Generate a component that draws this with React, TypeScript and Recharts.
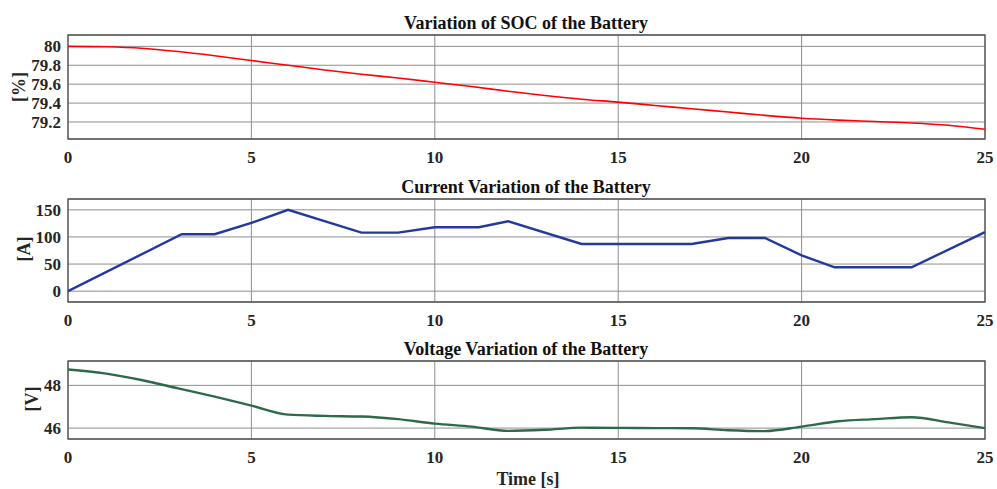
import React from 'react';
import { LineChart, Line, XAxis, YAxis, CartesianGrid, ReferenceArea } from 'recharts';

const xTicks = [0, 5, 10, 15, 20, 25];

const socTime = [0, 1, 2, 3, 4, 5, 6, 7, 8, 9, 10, 11, 12, 13, 14, 15, 16, 17, 18, 19, 20, 21, 22, 23, 24, 25];
const socValues = [80, 79.995, 79.98, 79.945, 79.9, 79.85, 79.8, 79.75, 79.705, 79.665, 79.62, 79.575, 79.525, 79.48, 79.44, 79.41, 79.375, 79.34, 79.305, 79.27, 79.24, 79.22, 79.205, 79.19, 79.165, 79.123];
const socTicks = [79.2, 79.4, 79.6, 79.8, 80];

const currentTime = [0, 3.1, 4, 5, 6, 8, 9, 10, 11.2, 12, 14, 17, 18, 19, 20, 20.9, 23, 25];
const currentValues = [0, 105, 105, 126, 150, 108, 108, 118, 118, 129, 87, 87, 98, 98, 66, 44, 44, 109];
const currentTicks = [0, 50, 100, 150];

const voltageTime = [0, 1, 2, 3, 4, 5, 6, 7, 8, 9, 10, 11, 12, 13, 14, 15, 16, 17, 18, 19, 20, 21, 22, 23, 24, 25];
const voltageValues = [48.74, 48.56, 48.25, 47.86, 47.47, 47.05, 46.63, 46.57, 46.54, 46.42, 46.21, 46.07, 45.87, 45.92, 46.02, 46.01, 46.0, 45.99, 45.9, 45.86, 46.07, 46.32, 46.42, 46.51, 46.27, 46.0];
const voltageTicks = [46, 48];

const socData = socTime.map((t, i) => ({ t, v: socValues[i] }));
const currentData = currentTime.map((t, i) => ({ t, v: currentValues[i] }));
const voltageData = voltageTime.map((t, i) => ({ t, v: voltageValues[i] }));

const FONT = '"Liberation Serif", "Times New Roman", serif';
const GRID = '#8e8e8e';
const FRAME = '#555555';
const TEXT = '#262626';

function XTick(props: any) {
  const { x, y, payload } = props;
  return (
    <text x={x} y={y} dy={12} textAnchor="middle" style={{ fontFamily: FONT, fontSize: 17, fontWeight: 'bold', fill: TEXT }}>
      {String(payload.value)}
    </text>
  );
}

function YTick(props: any) {
  const { x, y, payload } = props;
  return (
    <text x={x} y={y} dy={6} textAnchor="end" style={{ fontFamily: FONT, fontSize: 17, fontWeight: 'bold', fill: TEXT }}>
      {String(payload.value)}
    </text>
  );
}

type PanelProps = {
  top: number;
  height: number;
  marginTop: number;
  marginBottom: number;
  xHeight: number;
  data: { t: number; v: number }[];
  domain: [number, number];
  yTicks: number[];
  color: string;
  strokeWidth: number;
  curve: 'monotone' | 'linear';
};

function Panel(p: PanelProps) {
  return (
    <div style={{ position: 'absolute', left: 0, top: p.top }}>
      <LineChart
        width={997}
        height={p.height}
        data={p.data}
        margin={{ top: p.marginTop, right: 12, bottom: p.marginBottom, left: 0 }}
      >
        <CartesianGrid stroke={GRID} strokeWidth={1} />
        <XAxis
          dataKey="t"
          type="number"
          domain={[0, 25]}
          ticks={xTicks}
          allowDataOverflow
          height={p.xHeight}
          tickLine={false}
          axisLine={false}
          tickSize={6}
          tickMargin={6}
          tick={<XTick />}
          interval={0}
        />
        <YAxis
          type="number"
          domain={p.domain}
          ticks={p.yTicks}
          allowDataOverflow
          width={68}
          tickLine={false}
          axisLine={false}
          tickSize={5}
          tickMargin={2}
          tick={<YTick />}
          interval={0}
        />
        <ReferenceArea
          x1={0}
          x2={25}
          y1={p.domain[0]}
          y2={p.domain[1]}
          fill="none"
          fillOpacity={0}
          stroke={FRAME}
          strokeWidth={1.3}
        />
        <Line
          type={p.curve}
          dataKey="v"
          stroke={p.color}
          strokeWidth={p.strokeWidth}
          dot={false}
          isAnimationActive={false}
        />
      </LineChart>
    </div>
  );
}

export default function App() {
  const titleStyle = { fontSize: 18, fontWeight: 'bold', fontFamily: FONT } as const;
  return (
    <div style={{ position: 'absolute', left: 0, top: 0, width: 997, height: 489, background: '#fff', overflow: 'hidden', fontFamily: FONT }}>
      <Panel top={0} height={170} marginTop={35} marginBottom={1} xHeight={30} data={socData} domain={[79.02, 80.12]} yTicks={socTicks} color="#ff0000" strokeWidth={1.6} curve="monotone" />
      <Panel top={170} height={160} marginTop={29} marginBottom={0} xHeight={28} data={currentData} domain={[-20, 170]} yTicks={currentTicks} color="#24399c" strokeWidth={2.4} curve="linear" />
      <Panel top={330} height={159} marginTop={31} marginBottom={20} xHeight={30} data={voltageData} domain={[45.49, 49.14]} yTicks={voltageTicks} color="#2d6a4b" strokeWidth={2.4} curve="monotone" />
      <svg width={997} height={489} style={{ position: 'absolute', left: 0, top: 0, pointerEvents: 'none' }}>
        <text x={526} y={29} textAnchor="middle" style={{ ...titleStyle, fill: '#111' }}>Variation of SOC of the Battery</text>
        <text x={526} y={192.5} textAnchor="middle" style={{ ...titleStyle, fill: '#111' }}>Current Variation of the Battery</text>
        <text x={526} y={355} textAnchor="middle" style={{ ...titleStyle, fill: '#111' }}>Voltage Variation of the Battery</text>
        <text x={528} y={485} textAnchor="middle" style={{ ...titleStyle, fill: TEXT }}>Time [s]</text>
        <text x={0} y={0} textAnchor="middle" dominantBaseline="central" transform="translate(19,87) rotate(-90)" style={{ ...titleStyle, fill: TEXT }}>[%]</text>
        <text x={0} y={0} textAnchor="middle" dominantBaseline="central" transform="translate(24,249) rotate(-90)" style={{ ...titleStyle, fill: TEXT }}>[A]</text>
        <text x={0} y={0} textAnchor="middle" dominantBaseline="central" transform="translate(31.5,399) rotate(-90)" style={{ ...titleStyle, fill: TEXT }}>[V]</text>
      </svg>
    </div>
  );
}
